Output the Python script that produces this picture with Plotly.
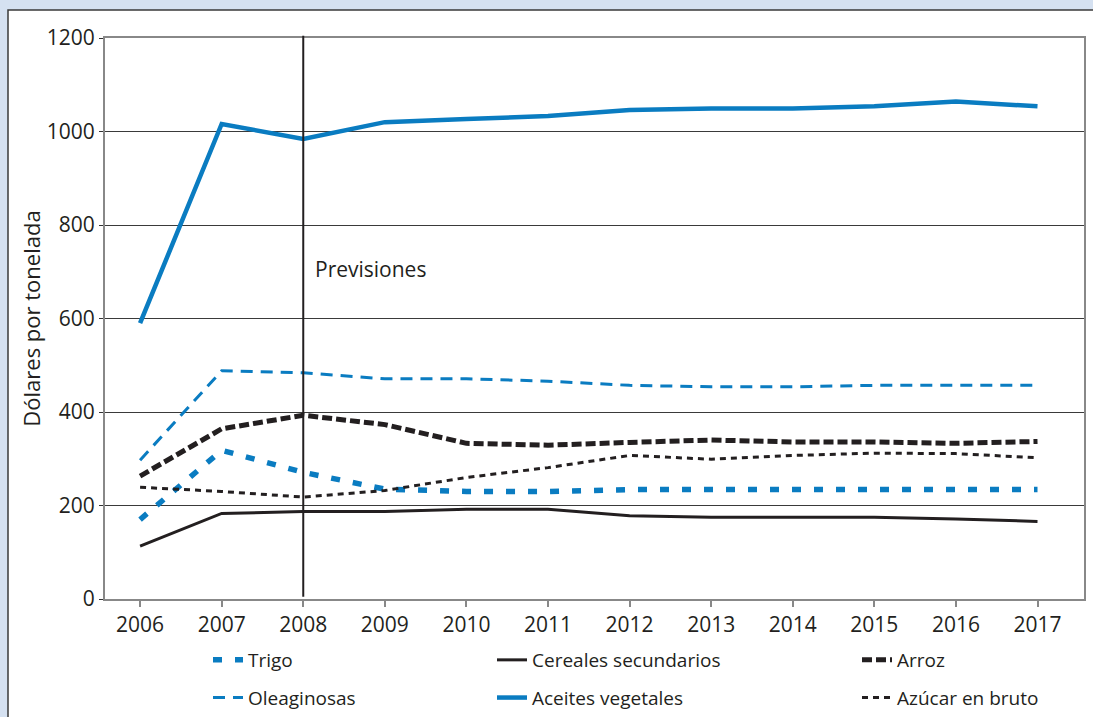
import plotly.graph_objects as go

years = [2006, 2007, 2008, 2009, 2010, 2011, 2012, 2013, 2014, 2015, 2016, 2017]

trigo = [170, 318, 271, 235, 230, 230, 234, 234, 234, 234, 234, 234]
cereales = [113, 183, 187, 187, 192, 192, 178, 175, 175, 175, 171, 166]
arroz = [263, 364, 393, 373, 333, 329, 335, 340, 336, 336, 333, 337]
oleaginosas = [297, 488, 484, 471, 471, 466, 457, 454, 454, 457, 457, 457]
aceites = [590, 1016, 984, 1020, 1027, 1033, 1046, 1049, 1049, 1054, 1064, 1054]
azucar = [239, 230, 218, 232, 260, 281, 307, 299, 307, 312, 311, 302]

y_ticks = [0, 200, 400, 600, 800, 1000, 1200]
forecast_year = 2008
forecast_label = "Previsiones"
y_title = "Dólares por tonelada"

BLUE = "#0a7cc1"
BLACK = "#231f20"
FONT = "Open Sans"

W, H = 1093, 717
L, R, T, B = 105, 9, 38, 118
pw, ph = W - L - R, H - T - B


def px_x(p):
    return (p - L) / pw


def px_y(p):
    return (H - B - p) / ph


series = [
    ("Trigo", trigo, dict(color=BLUE, width=5.5, dash="9px,13px"), "legend"),
    ("Oleaginosas", oleaginosas, dict(color=BLUE, width=3, dash="12px,8px"), "legend"),
    ("Cereales secundarios", cereales, dict(color=BLACK, width=3), "legend2"),
    ("Aceites vegetales", aceites, dict(color=BLUE, width=4.5), "legend2"),
    ("Arroz", arroz, dict(color=BLACK, width=5, dash="10px,4px"), "legend3"),
    ("Azúcar en bruto", azucar, dict(color=BLACK, width=3, dash="6px,5px"), "legend3"),
]

fig = go.Figure()
for name, vals, line, lg in series:
    fig.add_trace(go.Scatter(
        x=years, y=vals, name=name, mode="lines", line=line,
        legend=lg, legendgroup=name, showlegend=True,
    ))

# white panel behind the chart
fig.add_shape(type="rect", xref="paper", yref="paper",
              x0=px_x(8), x1=px_x(1200), y0=px_y(800), y1=px_y(10),
              fillcolor="white", line=dict(color="#3a3a3a", width=1.5), layer="below")

# forecast divider
fig.add_shape(type="line", xref="x", yref="paper",
              x0=forecast_year, x1=forecast_year, y0=0.004, y1=1.004,
              line=dict(color=BLACK, width=2), layer="above")
fig.add_annotation(x=forecast_year, xref="x", y=800 - 95, yref="y",
                   text=forecast_label, showarrow=False, xanchor="left",
                   xshift=10, font=dict(family=FONT, size=21, color=BLACK))

fig.update_xaxes(
    range=[2005.57, 2017.57], tickvals=years, ticks="outside", ticklen=6,
    tickcolor="#888", tickwidth=1.5, showgrid=False, showline=True,
    linecolor="#888", linewidth=2, mirror=True, zeroline=False, automargin=False,
    tickfont=dict(family=FONT, size=21, color=BLACK),
)
fig.update_yaxes(
    range=[0, 1200], tickvals=y_ticks, ticks="outside", ticklen=4,
    tickcolor="#333", showgrid=True, gridcolor="#3a3a3a", gridwidth=1,
    showline=True, linecolor="#888", linewidth=2, mirror=True, zeroline=False,
    automargin=False,
    tickfont=dict(family=FONT, size=21, color=BLACK),
    title=dict(text=y_title, font=dict(family=FONT, size=22, color=BLACK), standoff=0),
)

legend_common = dict(
    orientation="v", yanchor="top", xanchor="left", bgcolor="rgba(0,0,0,0)",
    font=dict(family=FONT, size=19, color=BLACK), tracegroupgap=10,
    itemwidth=30,
)
fig.update_layout(
    width=W, height=H,
    margin=dict(l=L, r=R, t=T, b=B, autoexpand=False),
    paper_bgcolor="#d5e1f1",
    plot_bgcolor="white",
    legend=dict(x=px_x(208), y=px_y(641), **legend_common),
    legend2=dict(x=px_x(492), y=px_y(641), **legend_common),
    legend3=dict(x=px_x(857), y=px_y(641), **legend_common),
)

fig.write_html("out.html", config={"displayModeBar": False},
               post_script="document.body.style.margin='0';")
